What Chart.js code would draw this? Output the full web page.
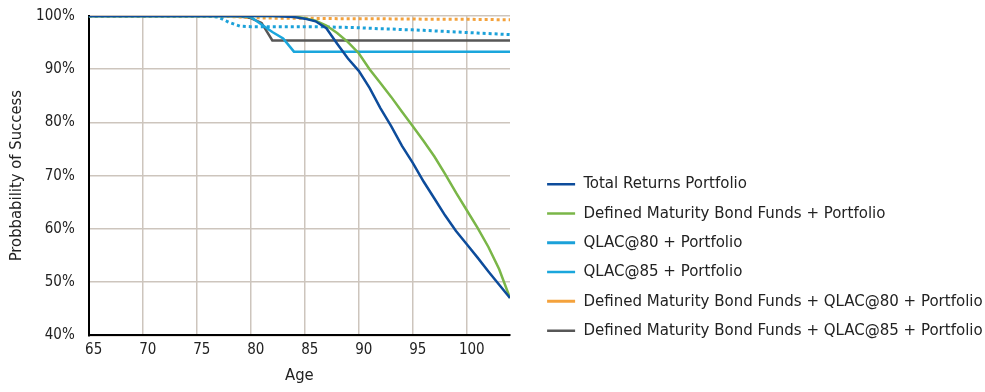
<!DOCTYPE html>
<html>
<head>
<meta charset="utf-8">
<script src="https://cdn.jsdelivr.net/npm/chart.js@4.4.0/dist/chart.umd.min.js"></script>
<style>
  html, body { margin: 0; padding: 0; background: #fff; }
  #wrap { width: 985px; height: 392px; }
</style>
</head>
<body>
<div id="wrap"><canvas id="chart"></canvas></div>
<script>
const ages = [65, 66, 67, 68, 69, 70, 71, 72, 73, 74, 75, 76, 77, 78, 79, 80, 81, 82, 83, 84,
  85, 86, 87, 88, 89, 90, 91, 92, 93, 94, 95, 96, 97, 98, 99, 100, 101, 102, 103, 104];

const ageTicks = [65, 70, 75, 80, 85, 90, 95, 100];

const totalReturns = [100, 100, 100, 100, 100, 100, 100, 100, 100, 100, 100, 100, 100, 100, 100, 100, 100, 100, 99.9, 99.8,
  99.5, 99.0, 97.7, 94.8, 92.0, 89.7, 86.5, 82.7, 79.3, 75.6, 72.4, 68.9, 65.7, 62.5, 59.6, 57.1, 54.6, 52.0, 49.5, 47.0];

const dmbfPortfolio = [100, 100, 100, 100, 100, 100, 100, 100, 100, 100, 100, 100, 100, 100, 100, 100, 100, 100, 100, 99.9,
  99.6, 99.1, 98.2, 96.8, 95.1, 93.0, 90.0, 87.4, 84.8, 82.0, 79.3, 76.5, 73.6, 70.3, 66.8, 63.5, 60.2, 56.6, 52.4, 47.0];

const qlac80 = [100, 100, 100, 100, 100, 100, 100, 100, 100, 100, 100, 100, 99.8, 98.8, 98.1, 98.0, 98.0, 98.0, 98.0, 98.0,
  98.0, 98.0, 97.95, 97.9, 97.85, 97.8, 97.7, 97.6, 97.55, 97.45, 97.4, 97.3, 97.2, 97.1, 97.0, 96.9, 96.8, 96.7, 96.6, 96.5];

const qlac85 = [100, 100, 100, 100, 100, 100, 100, 100, 100, 100, 100, 100, 100, 100, 100, 99.8, 98.4, 97.0, 95.8, 93.3,
  93.3, 93.3, 93.3, 93.3, 93.3, 93.3, 93.3, 93.3, 93.3, 93.3, 93.3, 93.3, 93.3, 93.3, 93.3, 93.3, 93.3, 93.3, 93.3, 93.3];

const dmbfQlac80 = [99.9, 99.9, 99.9, 99.9, 99.9, 99.9, 99.9, 99.9, 99.9, 99.9, 99.9, 99.9, 99.9, 99.9, 99.8, 99.7, 99.65, 99.6, 99.6, 99.6,
  99.6, 99.55, 99.55, 99.5, 99.5, 99.5, 99.5, 99.5, 99.45, 99.45, 99.45, 99.4, 99.4, 99.4, 99.4, 99.4, 99.35, 99.35, 99.3, 99.3];

const dmbfQlac85 = [100, 100, 100, 100, 100, 100, 100, 100, 100, 100, 100, 100, 100, 100, 99.9, 99.6, 98.7, 95.4, 95.4, 95.4,
  95.4, 95.4, 95.4, 95.4, 95.4, 95.4, 95.4, 95.4, 95.4, 95.4, 95.4, 95.4, 95.4, 95.4, 95.4, 95.4, 95.4, 95.4, 95.4, 95.4];

const seriesNames = [
  "Total Returns Portfolio",
  "Defined Maturity Bond Funds + Portfolio",
  "QLAC@80 + Portfolio",
  "QLAC@85 + Portfolio",
  "Defined Maturity Bond Funds + QLAC@80 + Portfolio",
  "Defined Maturity Bond Funds + QLAC@85 + Portfolio",
];

const FONT = "'DejaVu Sans Condensed', 'Liberation Sans Narrow', sans-serif";
const GRID = "#cdc5bd";
const LEGEND_GAP = 24.5;

function toPoints(values) {
  return ages.map((a, i) => ({ x: a, y: values[i] }));
}

function lineSet(label, values, color, dashed) {
  return {
    label: label,
    data: toPoints(values),
    borderColor: color,
    backgroundColor: color,
    borderWidth: dashed ? 3 : 2.5,
    borderDash: dashed ? [3, 3] : [],
    pointRadius: 0,
    tension: 0,
  };
}

const datasets = [
  lineSet(seriesNames[0], totalReturns, "#0d4c9b", false),
  lineSet(seriesNames[1], dmbfPortfolio, "#7ab648", false),
  lineSet(seriesNames[2], qlac80, "#1ba1d9", true),
  lineSet(seriesNames[3], qlac85, "#1aa6dc", false),
  lineSet(seriesNames[4], dmbfQlac80, "#f4a23c", true),
  lineSet(seriesNames[5], dmbfQlac85, "#575757", false),
];

new Chart(document.getElementById("chart"), {
  type: "line",
  data: { datasets: datasets },
  options: {
    responsive: true,
    maintainAspectRatio: false,
    animation: false,
    layout: { padding: { left: 4, top: 0, right: 0, bottom: 0 } },
    scales: {
      x: {
        type: "linear",
        min: 65,
        max: 104,
        afterBuildTicks: (scale) => {
          // grid line on each labelled age plus the right edge
          scale.ticks = ageTicks.concat([ages[ages.length - 1]]).map((v) => ({ value: v }));
        },
        afterFit: (scale) => { scale.height = 56.7; },
        grid: { color: GRID, lineWidth: 1.5, drawTicks: false },
        border: { color: "#000", width: 2 },
        ticks: {
          padding: 6,
          labelOffset: 5,
          maxRotation: 0,
          autoSkip: false,
          color: "#222",
          font: { family: FONT, size: 15 },
          callback: (v) => (ageTicks.includes(v) ? String(v) : null),
        },
        title: {
          display: true,
          text: "Age",
          color: "#222",
          font: { family: FONT, size: 16.5 },
          padding: { top: 2, bottom: 6 },
        },
      },
      y: {
        min: 40,
        max: 100,
        afterFit: (scale) => {
          scale.width = 84.7;
          scale.paddingTop = 16;
          scale.paddingBottom = 10;
        },
        grid: { color: GRID, lineWidth: 1.5, drawTicks: false },
        border: { color: "#000", width: 2 },
        ticks: {
          stepSize: 10,
          padding: 14,
          color: "#222",
          font: { family: FONT, size: 15 },
          callback: (v) => v + "%",
        },
        title: {
          display: true,
          text: "Probbability of Success",
          color: "#222",
          font: { family: FONT, size: 16.5 },
          padding: { top: 3, bottom: 8 },
        },
      },
      gap: {
        type: "linear",
        position: "right",
        display: true,
        grid: { display: false },
        border: { display: false },
        ticks: { display: false },
        afterFit: (scale) => { scale.width = LEGEND_GAP; },
      },
    },
    plugins: {
      tooltip: { enabled: false },
      legend: {
        position: "right",
        align: "start",
        maxWidth: 450.5,
        title: { display: true, text: " ", font: { size: 1 }, padding: { top: 162, bottom: 0 } },
        labels: {
          usePointStyle: true,
          pointStyle: "line",
          pointStyleWidth: 28,
          padding: 12.6,
          color: "#222",
          font: { family: FONT, size: 16.7 },
        },
      },
    },
  },
});
</script>
</body>
</html>
